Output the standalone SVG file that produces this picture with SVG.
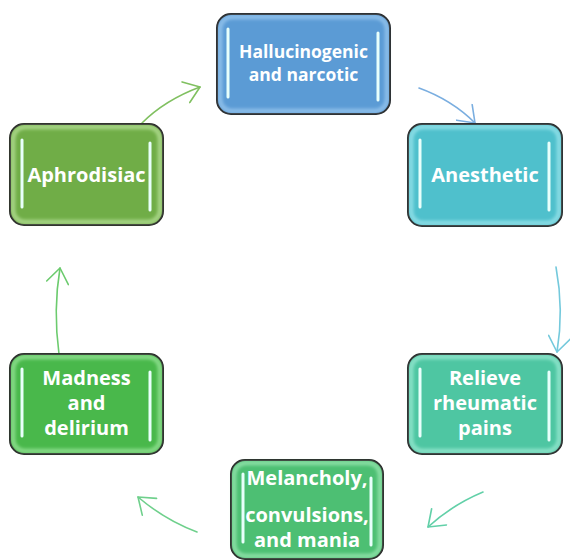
<svg xmlns="http://www.w3.org/2000/svg" width="570" height="560" viewBox="0 0 570 560">
<defs>
<style>
.box{stroke:#1a1a1a;stroke-width:2}
.glow{fill:none;stroke-width:5;stroke-opacity:0.45;filter:url(#blur)}
.bar{stroke:#e8fffb;stroke-width:3;stroke-linecap:round}
.barglow{stroke-width:7;stroke-opacity:0.6;filter:url(#blur)}
.lbl{font-family:"Open Sans","DejaVu Sans",sans-serif;font-weight:bold;fill:#ffffff;text-anchor:middle;font-size:20px}
.conn{fill:none;stroke-width:1.6;stroke-linecap:round}
</style>
<filter id="blur" x="-20%" y="-20%" width="140%" height="140%"><feGaussianBlur stdDeviation="1.6"/></filter>
<marker id="mBlue" viewBox="0 0 20 24" refX="19" refY="12" markerWidth="20" markerHeight="24" markerUnits="userSpaceOnUse" orient="auto"><path d="M4,1 L19,12 L4,23" fill="none" stroke="#7aaee0" stroke-width="1.6" stroke-linecap="round" stroke-linejoin="round"/></marker>
<marker id="mCyan" viewBox="0 0 20 24" refX="19" refY="12" markerWidth="20" markerHeight="24" markerUnits="userSpaceOnUse" orient="auto"><path d="M4,1 L19,12 L4,23" fill="none" stroke="#74c9dc" stroke-width="1.6" stroke-linecap="round" stroke-linejoin="round"/></marker>
<marker id="mTeal" viewBox="0 0 20 24" refX="19" refY="12" markerWidth="20" markerHeight="24" markerUnits="userSpaceOnUse" orient="auto"><path d="M4,1 L19,12 L4,23" fill="none" stroke="#62d0a8" stroke-width="1.6" stroke-linecap="round" stroke-linejoin="round"/></marker>
<marker id="mGreen1" viewBox="0 0 20 24" refX="19" refY="12" markerWidth="20" markerHeight="24" markerUnits="userSpaceOnUse" orient="auto"><path d="M4,1 L19,12 L4,23" fill="none" stroke="#6fd08c" stroke-width="1.6" stroke-linecap="round" stroke-linejoin="round"/></marker>
<marker id="mGreen2" viewBox="0 0 20 24" refX="19" refY="12" markerWidth="20" markerHeight="24" markerUnits="userSpaceOnUse" orient="auto"><path d="M4,1 L19,12 L4,23" fill="none" stroke="#6ccb6e" stroke-width="1.6" stroke-linecap="round" stroke-linejoin="round"/></marker>
<marker id="mGreen3" viewBox="0 0 20 24" refX="19" refY="12" markerWidth="20" markerHeight="24" markerUnits="userSpaceOnUse" orient="auto"><path d="M4,1 L19,12 L4,23" fill="none" stroke="#80c060" stroke-width="1.6" stroke-linecap="round" stroke-linejoin="round"/></marker>
</defs>
<rect width="570" height="560" fill="#ffffff"/>

<g id="connectors">
<path class="conn" stroke="#80c060" d="M142,123 Q165,100 200,87" marker-end="url(#mGreen3)"/>
<path class="conn" stroke="#7aaee0" d="M419,88 Q452,100 475,123" marker-end="url(#mBlue)"/>
<path class="conn" stroke="#74c9dc" d="M556,267 Q564,310 557,352" marker-end="url(#mCyan)"/>
<path class="conn" stroke="#62d0a8" d="M483,492 Q452,505 428,527" marker-end="url(#mTeal)"/>
<path class="conn" stroke="#6fd08c" d="M197,532 Q165,520 138,497" marker-end="url(#mGreen1)"/>
<path class="conn" stroke="#6ccb6e" d="M59,354 Q53,310 60,268" marker-end="url(#mGreen2)"/>
</g>

<g id="node-hallucinogenic">
<rect class="box" x="217" y="14" width="173" height="100" rx="14" fill="#5b9bd5"/>
<rect class="glow" x="220" y="17" width="167" height="94" rx="12" stroke="#bfe3ff"/>
<line class="bar barglow" x1="228" y1="29" x2="228" y2="97" stroke="#c8f0ff"/>
<line class="bar" x1="228" y1="29" x2="228" y2="97"/>
<line class="bar barglow" x1="378" y1="33" x2="378" y2="100" stroke="#c8f0ff"/>
<line class="bar" x1="378" y1="33" x2="378" y2="100"/>
<text class="lbl" x="303.5" y="58" style="font-size:17.5px">Hallucinogenic</text>
<text class="lbl" x="303.5" y="81" style="font-size:17.5px">and narcotic</text>
</g>

<g id="node-anesthetic">
<rect class="box" x="408" y="124" width="154" height="102" rx="14" fill="#4fc0cc"/>
<rect class="glow" x="411" y="127" width="148" height="96" rx="12" stroke="#c8fbff"/>
<line class="bar barglow" x1="420" y1="140" x2="420" y2="207" stroke="#c8fbff"/>
<line class="bar" x1="420" y1="140" x2="420" y2="207"/>
<line class="bar barglow" x1="549" y1="143" x2="549" y2="210" stroke="#c8fbff"/>
<line class="bar" x1="549" y1="143" x2="549" y2="210"/>
<text class="lbl" x="485" y="182">Anesthetic</text>
</g>

<g id="node-relieve">
<rect class="box" x="408" y="354" width="154" height="100" rx="14" fill="#4ec6a2"/>
<rect class="glow" x="411" y="357" width="148" height="94" rx="12" stroke="#c8fff0"/>
<line class="bar barglow" x1="420" y1="369" x2="420" y2="436" stroke="#c8fff0"/>
<line class="bar" x1="420" y1="369" x2="420" y2="436"/>
<line class="bar barglow" x1="549" y1="372" x2="549" y2="440" stroke="#c8fff0"/>
<line class="bar" x1="549" y1="372" x2="549" y2="440"/>
<text class="lbl" x="485" y="385">Relieve</text>
<text class="lbl" x="485" y="410">rheumatic</text>
<text class="lbl" x="485" y="435">pains</text>
</g>

<g id="node-melancholy">
<rect class="box" x="231" y="460" width="152" height="99" rx="14" fill="#4dbf73"/>
<rect class="glow" x="234" y="463" width="146" height="93" rx="12" stroke="#c8ffd8"/>
<line class="bar barglow" x1="243" y1="474" x2="243" y2="542" stroke="#c8ffd8"/>
<line class="bar" x1="243" y1="474" x2="243" y2="542"/>
<line class="bar barglow" x1="371" y1="478" x2="371" y2="545" stroke="#c8ffd8"/>
<line class="bar" x1="371" y1="478" x2="371" y2="545"/>
<text class="lbl" x="307" y="485">Melancholy,</text>
<text class="lbl" x="307" y="522">convulsions,</text>
<text class="lbl" x="307" y="547">and mania</text>
</g>

<g id="node-madness">
<rect class="box" x="10" y="354" width="153" height="100" rx="14" fill="#49b84b"/>
<rect class="glow" x="13" y="357" width="147" height="94" rx="12" stroke="#c8ffc8"/>
<line class="bar barglow" x1="22" y1="369" x2="22" y2="436" stroke="#c8ffc8"/>
<line class="bar" x1="22" y1="369" x2="22" y2="436"/>
<line class="bar barglow" x1="150" y1="372" x2="150" y2="440" stroke="#c8ffc8"/>
<line class="bar" x1="150" y1="372" x2="150" y2="440"/>
<text class="lbl" x="86.5" y="385">Madness</text>
<text class="lbl" x="86.5" y="410">and</text>
<text class="lbl" x="86.5" y="435">delirium</text>
</g>

<g id="node-aphrodisiac">
<rect class="box" x="10" y="124" width="153" height="101" rx="14" fill="#70ad47"/>
<rect class="glow" x="13" y="127" width="147" height="95" rx="12" stroke="#e0ffc8"/>
<line class="bar barglow" x1="22" y1="140" x2="22" y2="207" stroke="#e0ffc8"/>
<line class="bar" x1="22" y1="140" x2="22" y2="207"/>
<line class="bar barglow" x1="150" y1="143" x2="150" y2="210" stroke="#e0ffc8"/>
<line class="bar" x1="150" y1="143" x2="150" y2="210"/>
<text class="lbl" x="86.5" y="182">Aphrodisiac</text>
</g>
</svg>
